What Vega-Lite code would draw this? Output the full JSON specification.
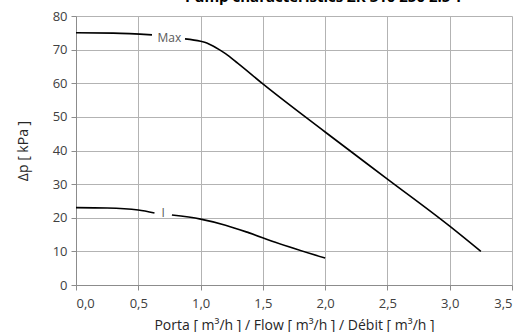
{
  "$schema": "https://vega.github.io/schema/vega-lite/v6.json",
  "width": 436,
  "height": 269,
  "padding": {"left": 16, "top": -10, "right": 0, "bottom": 0},
  "background": "white",
  "title": {
    "text": "Pump characteristics ZK 310 250 2.5 T",
    "font": "Open Sans",
    "fontSize": 15,
    "fontWeight": "bold",
    "color": "#000000",
    "anchor": "middle",
    "dx": 30,
    "offset": 5
  },
  "config": {
    "view": {"stroke": null},
    "font": "Open Sans"
  },
  "datasets": {
    "curves": [
      {"flow": 0.0, "dp": 75.0, "seg": "max1"},
      {"flow": 0.3, "dp": 74.9, "seg": "max1"},
      {"flow": 0.61, "dp": 74.4, "seg": "max1"},
      {"flow": 0.875, "dp": 73.2, "seg": "max2"},
      {"flow": 1.0, "dp": 72.5, "seg": "max2"},
      {"flow": 1.05, "dp": 72.0, "seg": "max2"},
      {"flow": 1.1, "dp": 71.1, "seg": "max2"},
      {"flow": 1.15, "dp": 70.0, "seg": "max2"},
      {"flow": 1.2, "dp": 68.8, "seg": "max2"},
      {"flow": 1.3, "dp": 65.9, "seg": "max2"},
      {"flow": 1.5, "dp": 59.8, "seg": "max2"},
      {"flow": 2.0, "dp": 45.5, "seg": "max2"},
      {"flow": 2.5, "dp": 31.5, "seg": "max2"},
      {"flow": 3.0, "dp": 17.5, "seg": "max2"},
      {"flow": 3.25, "dp": 10.0, "seg": "max2"},
      {"flow": 0.0, "dp": 23.0, "seg": "i1"},
      {"flow": 0.25, "dp": 22.9, "seg": "i1"},
      {"flow": 0.5, "dp": 22.3, "seg": "i1"},
      {"flow": 0.63, "dp": 21.4, "seg": "i1"},
      {"flow": 0.77, "dp": 20.8, "seg": "i2"},
      {"flow": 1.0, "dp": 19.6, "seg": "i2"},
      {"flow": 1.2, "dp": 17.8, "seg": "i2"},
      {"flow": 1.39, "dp": 15.5, "seg": "i2"},
      {"flow": 1.6, "dp": 12.7, "seg": "i2"},
      {"flow": 2.0, "dp": 8.0, "seg": "i2"}
    ],
    "labels": [
      {"flow": 0.75, "dp": 73.6, "label": "Max"},
      {"flow": 0.7, "dp": 21.5, "label": "I"}
    ]
  },
  "layer": [
    {
      "data": {"name": "curves"},
      "mark": {"type": "line", "color": "#000000", "strokeWidth": 1.6, "interpolate": "monotone"},
      "encoding": {
        "x": {
          "field": "flow", "type": "quantitative",
          "scale": {"domain": [0, 3.5], "nice": false},
          "axis": {
            "grid": true,
            "gridColor": "#b3b3b3",
            "gridOpacity": 1,
            "gridWidth": 1,
            "tickCount": 7,
            "labelExpr": "replace(format(datum.value, '.1f'), '.', ',')",
            "title": "Porta  [ m³/h ] / Flow  [ m³/h ] / Débit [ m³/h ]",
            "labelFontSize": 13,
            "labelColor": "#404040",
            "titleColor": "#262626",
            "titleFontSize": 14,
            "titleFontWeight": "normal",
            "domainColor": "#8c8c8c",
            "tickColor": "#8c8c8c",
            "tickSize": 5,
            "labelPadding": 7,
            "titlePadding": 8
          }
        },
        "y": {
          "field": "dp", "type": "quantitative",
          "scale": {"domain": [0, 80], "nice": false},
          "axis": {
            "grid": true,
            "gridColor": "#b3b3b3",
            "gridOpacity": 1,
            "gridWidth": 1,
            "tickCount": 8,
            "labelOverlap": false,
            "title": "Δp  [ kPa ]",
            "labelFontSize": 13,
            "labelColor": "#404040",
            "titleColor": "#262626",
            "titleFontSize": 14,
            "titleFontWeight": "normal",
            "domainColor": "#8c8c8c",
            "tickColor": "#8c8c8c",
            "tickSize": 5,
            "labelPadding": 4,
            "titlePadding": 22
          }
        },
        "detail": {"field": "seg"}
      }
    },
    {
      "data": {"name": "labels"},
      "mark": {"type": "text", "fontSize": 12, "color": "#595959"},
      "encoding": {
        "x": {"field": "flow", "type": "quantitative"},
        "y": {"field": "dp", "type": "quantitative"},
        "text": {"field": "label"}
      }
    }
  ]
}
